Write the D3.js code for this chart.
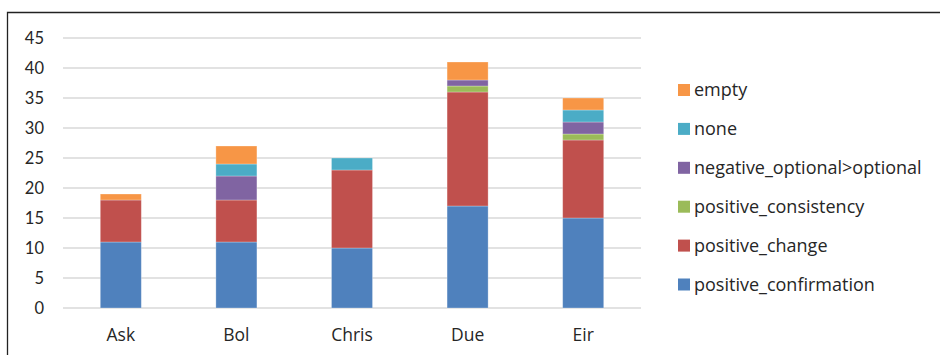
<!DOCTYPE html>
<html>
<head>
<meta charset="utf-8">
<script src="https://cdn.jsdelivr.net/npm/d3@7"></script>
<style>
  body { margin: 0; background: #fff; }
  svg { display: block; font-family: Lato, "Open Sans", sans-serif; }
</style>
</head>
<body>
<div id="chart"></div>
<script>
// Data
const people = ["Ask", "Bol", "Chris", "Due", "Eir"];
const seriesNames = ["positive_confirmation", "positive_change", "positive_consistency",
  "negative_optional>optional", "none", "empty"];
const positive_confirmation = [11, 11, 10, 17, 15];
const positive_change = [7, 7, 13, 19, 13];
const positive_consistency = [0, 0, 0, 1, 1];
const negative_optional = [0, 4, 0, 1, 2];
const none = [0, 2, 2, 0, 2];
const empty = [1, 3, 0, 3, 2];
const yTicks = [0, 5, 10, 15, 20, 25, 30, 35, 40, 45];
const colors = ["#4f81bd", "#c0504d", "#9bbb59", "#8064a2", "#4bacc6", "#f79646"];

const width = 940, height = 355;
const svg = d3.select("#chart").append("svg")
  .attr("width", width)
  .attr("height", height);

// outer frame (only top and left visible)
svg.append("path")
  .attr("d", "M7.5,360 V12.5 H945")
  .attr("fill", "none")
  .attr("stroke", "#222")
  .attr("stroke-width", 1.3);

// build table for stack
const allSeries = [positive_confirmation, positive_change, positive_consistency,
  negative_optional, none, empty];
const rows = people.map((p, i) => {
  const r = { name: p };
  seriesNames.forEach((s, j) => { r[s] = allSeries[j][i]; });
  return r;
});
const stacked = d3.stack().keys(seriesNames)(rows);

const x = d3.scaleBand()
  .domain(people)
  .range([63, 641])
  .paddingInner(0.645)
  .paddingOuter(0.3225);

const y = d3.scaleLinear()
  .domain([0, 45])
  .range([308, 38]);

// gridlines
svg.append("g")
  .selectAll("line")
  .data(yTicks)
  .enter()
  .append("line")
  .attr("x1", 63)
  .attr("x2", 641)
  .attr("y1", (d) => y(d))
  .attr("y2", (d) => y(d))
  .attr("stroke", "#d9d9d9")
  .attr("stroke-width", 1.5);

// y axis labels
const yAxis = svg.append("g")
  .attr("transform", "translate(44,0)")
  .call(d3.axisLeft(y).tickValues(yTicks).tickSize(0).tickPadding(0));
yAxis.select(".domain").remove();
yAxis.selectAll("text")
  .attr("font-size", 16.5)
  .attr("font-family", "Lato, 'Open Sans', sans-serif")
  .attr("fill", "#262626");

// bars
svg.append("g")
  .selectAll("g")
  .data(stacked)
  .enter()
  .append("g")
  .attr("fill", (d, i) => colors[i])
  .selectAll("rect")
  .data((d) => d.filter((v) => v[1] - v[0] > 0))
  .enter()
  .append("rect")
  .attr("x", (d) => x(d.data.name))
  .attr("y", (d) => y(d[1]))
  .attr("width", x.bandwidth())
  .attr("height", (d) => y(d[0]) - y(d[1]))
  .attr("stroke", "rgba(255,255,255,0.35)")
  .attr("stroke-width", 0.8);

// x axis labels
const xAxis = svg.append("g")
  .attr("transform", "translate(0,328)")
  .call(d3.axisBottom(x).tickSize(0).tickPadding(0));
xAxis.select(".domain").remove();
xAxis.selectAll("text")
  .attr("dy", "0.75em")
  .attr("font-size", 17.5)
  .attr("font-family", "'Open Sans', Lato, sans-serif")
  .attr("fill", "#262626");

// legend, top entry is the last series
const legendOrder = seriesNames.map((s, i) => i).reverse();
const legendY = d3.scalePoint()
  .domain(legendOrder)
  .range([90, 284.5]);

const legend = svg.append("g")
  .selectAll("g")
  .data(legendOrder)
  .enter()
  .append("g")
  .attr("transform", (d) => `translate(678,${legendY(d)})`);

legend.append("rect")
  .attr("x", 0)
  .attr("y", -6)
  .attr("width", 12)
  .attr("height", 12)
  .attr("fill", (d) => colors[d]);

legend.append("text")
  .attr("x", 16)
  .attr("y", 0)
  .attr("dy", "0.35em")
  .attr("font-size", 18)
  .attr("font-family", "'Open Sans', Lato, sans-serif")
  .attr("fill", "#262626")
  .text((d) => seriesNames[d]);
</script>
</body>
</html>
